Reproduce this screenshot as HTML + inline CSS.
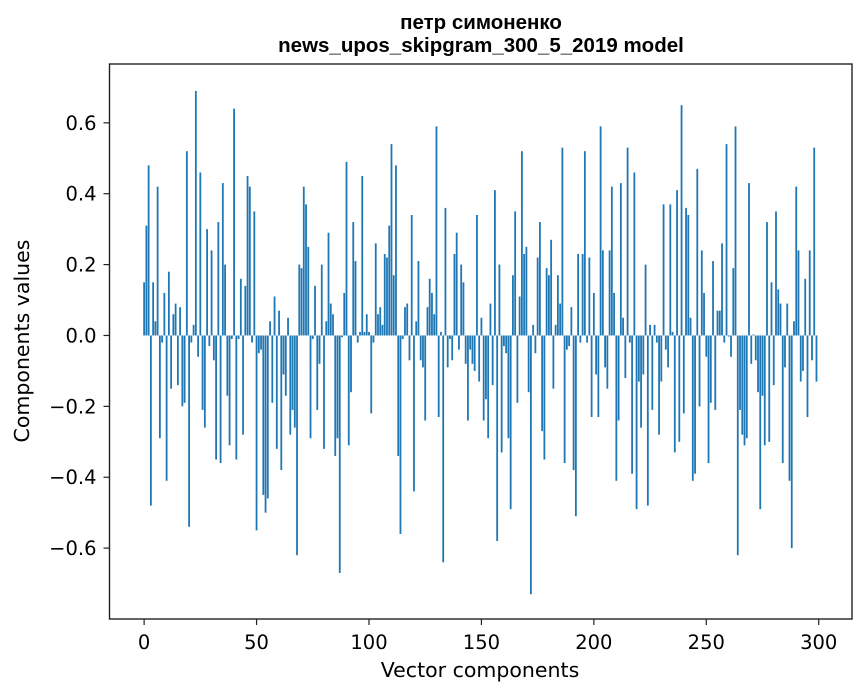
<!DOCTYPE html>
<html><head><meta charset="utf-8"><style>
html,body{margin:0;padding:0;background:#fff;}
svg{display:block;font-family:"DejaVu Sans","Liberation Sans",sans-serif;}
</style></head><body>
<svg id="chart" width="867" height="696" viewBox="0 0 867 696" xmlns="http://www.w3.org/2000/svg">
<text x="481" y="29" text-anchor="middle" font-size="20.5" font-weight="bold" fill="#000" font-family="Liberation Sans, sans-serif">петр симоненко</text>
<text x="481" y="52" text-anchor="middle" font-size="20.5" font-weight="bold" fill="#000" font-family="Liberation Sans, sans-serif">news_upos_skipgram_300_5_2019 model</text>
<text x="480" y="677" text-anchor="middle" font-size="20.5" fill="#000">Vector components</text>
<text transform="translate(29,341) rotate(-90)" text-anchor="middle" font-size="20.5" fill="#000">Components values</text>
<g id="bars"></g>
<g id="axes"></g>
</svg>
<script>
const values = [
0.15,0.31,0.48,-0.48,0.15,0.04,0.42,-0.29,-0.02,0.12,
-0.41,0.18,-0.15,0.06,0.09,-0.14,0.08,-0.20,-0.19,0.52,
-0.54,-0.02,0.03,0.69,-0.06,0.46,-0.21,-0.26,0.30,-0.03,
0.24,-0.07,-0.35,0.32,-0.36,0.43,0.20,-0.17,-0.31,-0.01,
0.64,-0.35,-0.01,0.16,-0.28,0.14,0.45,0.42,-0.02,0.35,
-0.55,-0.05,-0.04,-0.45,-0.50,-0.46,0.04,-0.19,0.11,-0.32,
0.07,-0.38,-0.11,-0.17,0.05,-0.28,-0.21,-0.26,-0.62,0.20,
0.19,0.42,0.37,0.25,-0.29,-0.01,0.14,-0.21,-0.08,0.20,
-0.32,0.04,0.29,0.09,0.06,-0.34,-0.29,-0.67,-0.005,0.12,
0.49,-0.31,-0.16,0.32,0.21,-0.02,0.01,0.45,0.01,0.06,
0.01,-0.22,-0.02,0.26,0.06,0.08,0.03,0.23,0.22,0.31,
0.54,0.17,0.48,-0.34,-0.56,-0.01,0.08,0.09,-0.07,0.34,
-0.44,0.04,0.21,-0.07,-0.09,-0.24,0.08,0.16,0.12,0.06,
0.59,-0.23,0.01,-0.64,0.36,-0.09,-0.01,-0.07,0.23,0.29,
-0.04,0.20,0.15,-0.08,-0.24,-0.04,-0.08,-0.10,0.34,-0.13,
0.05,-0.24,-0.18,-0.29,0.09,-0.14,0.41,-0.58,0.20,-0.33,
-0.03,-0.05,-0.29,-0.49,0.17,0.35,-0.19,0.11,0.52,0.23,
0.25,-0.16,-0.73,0.03,-0.05,0.22,0.32,-0.27,-0.35,0.19,
0.17,0.27,-0.15,0.03,0.17,0.09,0.53,-0.36,-0.04,-0.03,
0.08,-0.38,-0.51,0.23,-0.02,0.23,0.52,-0.02,0.22,-0.23,
0.12,-0.11,-0.23,0.59,0.24,-0.09,-0.15,0.24,0.42,0.12,
-0.41,-0.24,0.43,0.05,-0.12,0.53,-0.02,-0.39,0.46,-0.49,
-0.13,-0.26,-0.11,0.20,-0.48,0.03,-0.21,0.03,-0.02,-0.28,
-0.13,0.37,-0.04,-0.09,0.37,0.01,-0.33,0.41,-0.30,0.65,
-0.22,0.36,0.34,0.05,-0.41,-0.39,0.47,-0.20,0.24,0.12,
-0.06,-0.36,-0.19,0.21,-0.21,0.07,0.07,0.26,-0.02,0.54,
-0.003,-0.06,0.19,0.59,-0.62,-0.21,-0.28,-0.31,-0.29,0.43,
-0.08,0.003,-0.07,-0.16,-0.49,-0.17,-0.31,0.32,-0.30,0.15,
-0.14,0.35,0.13,0.09,-0.36,-0.09,0.09,-0.41,-0.60,0.04,
0.42,0.24,-0.13,-0.10,0.16,-0.23,0.24,-0.07,0.53,-0.13
];
const xTicks = [0,50,100,150,200,250,300];
const yTicks = [-0.6,-0.4,-0.2,0.0,0.2,0.4,0.6];

const L=109.5,R=852,T=64,B=619;
const xMin=-15.4,xMax=314.8,yMin=-0.8,yMax=0.766;
function xs(v){return L+(v-xMin)/(xMax-xMin)*(R-L);}
function ys(v){return B-(v-yMin)/(yMax-yMin)*(B-T);}
const NS="http://www.w3.org/2000/svg";
const bars=document.getElementById('bars');
values.forEach((v,i)=>{
  const r=document.createElementNS(NS,'rect');
  const x0=xs(i-0.4),x1=xs(i+0.4);
  const y0=ys(Math.max(v,0)),y1=ys(Math.min(v,0));
  r.setAttribute('x',x0);r.setAttribute('width',x1-x0);
  r.setAttribute('y',y0);r.setAttribute('height',Math.max(y1-y0,0.3));
  r.setAttribute('fill','#1f77b4');
  
  
  bars.appendChild(r);
});
const axes=document.getElementById('axes');
const frame=document.createElementNS(NS,'rect');
frame.setAttribute('x',L);frame.setAttribute('y',T);
frame.setAttribute('width',R-L);frame.setAttribute('height',B-T);
frame.setAttribute('fill','none');frame.setAttribute('stroke','#222');frame.setAttribute('stroke-width','1.4');


axes.appendChild(frame);
xTicks.forEach(t=>{
  const x=xs(t);
  const l=document.createElementNS(NS,'line');
  l.setAttribute('x1',x);l.setAttribute('x2',x);l.setAttribute('y1',B);l.setAttribute('y2',B+6);
  l.setAttribute('stroke','#222');l.setAttribute('stroke-width','1.2');
  
  
  axes.appendChild(l);
  const tx=document.createElementNS(NS,'text');
  tx.setAttribute('x',x);tx.setAttribute('y',B+30);tx.setAttribute('text-anchor','middle');
  tx.setAttribute('font-size','19.5');tx.textContent=String(t);
  
  
  axes.appendChild(tx);
});
yTicks.forEach(t=>{
  const y=ys(t);
  const l=document.createElementNS(NS,'line');
  l.setAttribute('x1',L-6);l.setAttribute('x2',L);l.setAttribute('y1',y);l.setAttribute('y2',y);
  l.setAttribute('stroke','#222');l.setAttribute('stroke-width','1.2');
  
  
  axes.appendChild(l);
  const tx=document.createElementNS(NS,'text');
  tx.setAttribute('x',L-13);tx.setAttribute('y',y+7);tx.setAttribute('text-anchor','end');
  tx.setAttribute('font-size','19.5');
  tx.textContent=(t<0?'\u2212':'')+Math.abs(t).toFixed(1);
  
  
  axes.appendChild(tx);
});
</script>
</body></html>
